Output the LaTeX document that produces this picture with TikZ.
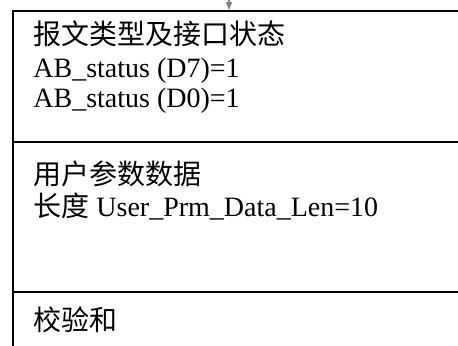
\documentclass[tikz,border=0pt]{standalone}
\usepackage{fontspec}
\setmainfont{Liberation Serif}
\newfontfamily\cjk{Noto Sans CJK SC}
\usetikzlibrary{arrows.meta}

\begin{document}
\begin{tikzpicture}[
  x=0.5pt, y=-0.5pt,
  frame/.style={line width=1pt, black},
  fieldtext/.style={anchor=base west, inner sep=0pt, font=\fontsize{14}{16}\selectfont},
  feed/.style={draw=gray, line width=0.7pt, -{Triangle[width=3pt, length=4pt]}}
]
  \useasboundingbox (0,0) rectangle (458,345);
  \clip (0,0) rectangle (458,345);
  % frame of the message, cut off at right and bottom
  \draw[frame] (13,360) -- (13,10.5) -- (470,10.5);
  \draw[frame] (13,142) -- (470,142);
  \draw[frame] (13,292) -- (470,292);
  % incoming arrow
  \coordinate (src) at (229,-2);
  \coordinate (entry) at (229,10);
  \draw[feed] (src) -- (entry);
  % field texts
  \node[fieldtext] (msgHead) at (33,44) {\cjk 报文类型及接口状态};
  \node[fieldtext] (msgD7) at (33,77) {AB\_status (D7)=1};
  \node[fieldtext] (msgD0) at (33,107) {AB\_status (D0)=1};
  \node[fieldtext] (prmHead) at (33,184) {\cjk 用户参数数据};
  \node[fieldtext] (prmLen) at (33,216) {{\cjk 长度} User\_Prm\_Data\_Len=10};
  \node[fieldtext] (sumHead) at (33,330) {\cjk 校验和};
\end{tikzpicture}
\end{document}
